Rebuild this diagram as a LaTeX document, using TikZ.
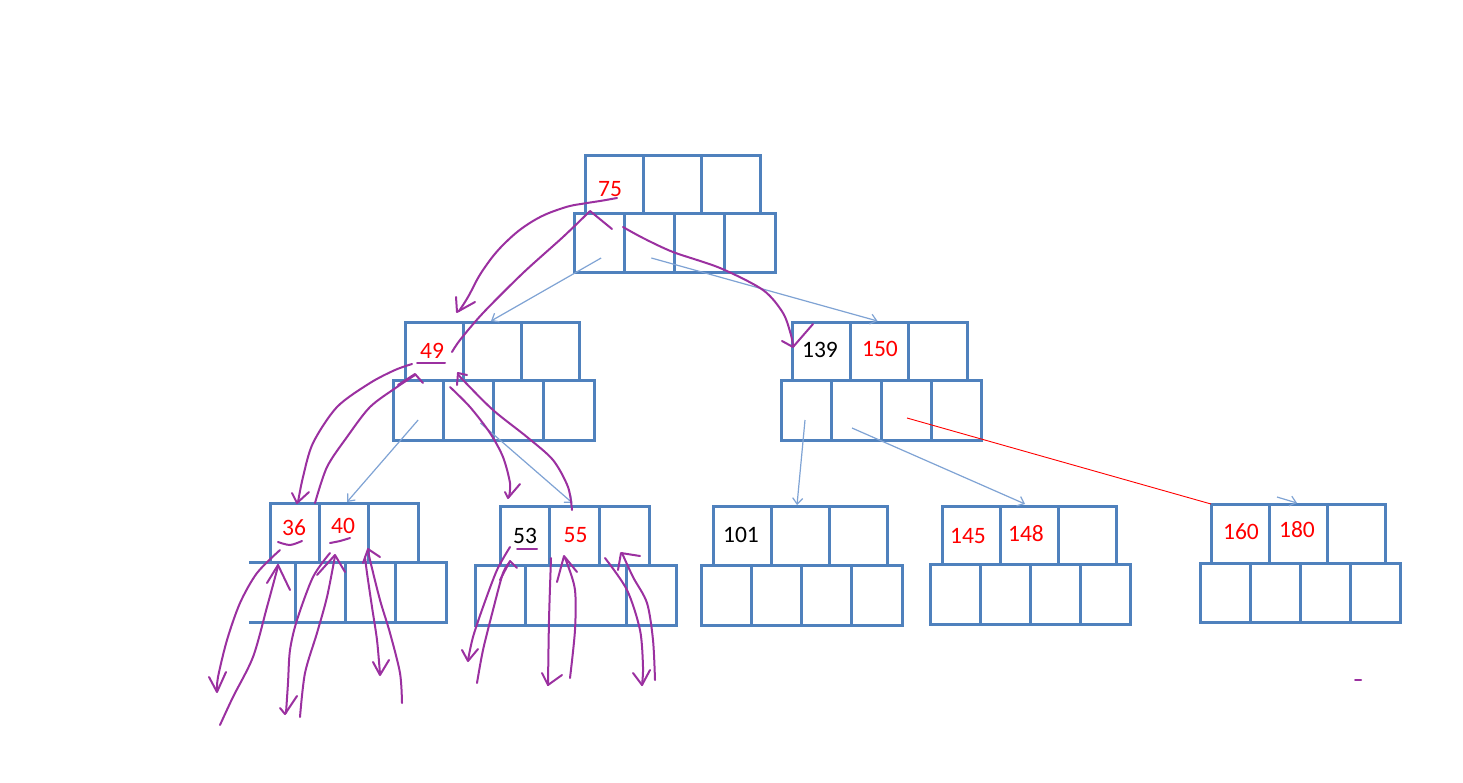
\documentclass[tikz,border=0pt]{standalone}
\usepackage{fontspec}
\setmainfont{Carlito}
\usetikzlibrary{arrows.meta,calc}
\definecolor{boxblue}{RGB}{79,129,189}
\definecolor{lightblue}{RGB}{127,163,212}
\definecolor{ink}{RGB}{155,48,160}
\definecolor{txtred}{RGB}{255,0,0}
\newcommand\cellrow[6]{%
  \pgfmathsetmacro\rowcw{(#3-#2)/#6}%
  \pgfmathsetmacro\rowch{#5-#4}%
  \foreach \i in {1,...,#6}{%
    \node[cell, minimum width=\rowcw pt, minimum height=\rowch pt] (#1-\i) at ({#2+(\i-0.5)*\rowcw},{(#4+#5)/2}) {};
  }}
\begin{document}
\begin{tikzpicture}[x=1pt,y=-1pt,
  cell/.style={draw=boxblue, line width=3pt, inner sep=0pt, outer sep=0pt},
  lbl/.style={font=\fontsize{23.5}{27}\selectfont, inner sep=0pt},
  redlbl/.style={lbl, text=txtred},
  ptr/.style={draw=lightblue, line width=1.2pt, -{Straight Barb[length=6pt,width=10pt]}},
  inkline/.style={draw=ink, line width=2pt, line cap=round, line join=round},
  redline/.style={draw=txtred, line width=0.9pt},
]
\fill[white] (0,0) rectangle (1463,782);
\useasboundingbox (0,0) rectangle (1463,782);

% ---- cells ----
\cellrow{rb}{574}{775}{213}{272}{4}
\cellrow{rt}{585}{760}{155}{213}{3}
\cellrow{lb}{393}{594}{380}{440}{4}
\cellrow{lt}{405}{579}{322}{380}{3}
\cellrow{mb}{781}{981}{380}{440}{4}
\cellrow{mt}{792}{967}{322}{380}{3}
\cellrow{ab}{295}{446}{562}{622}{3}
\draw[boxblue, line width=3pt] (ab-1.north west) -- ++(-46,0);
\draw[boxblue, line width=3pt] (ab-1.south west) -- ++(-46,0);
\cellrow{at}{270}{418}{503}{562}{3}
\node[cell, minimum width=50pt, minimum height=60pt] (bb-1) at (500,595) {};
\node[cell, minimum width=101pt, minimum height=60pt] (bb-2) at (575.5,595) {};
\node[cell, minimum width=50pt, minimum height=60pt] (bb-3) at (651,595) {};
\cellrow{bt}{500}{649}{506}{565}{3}
\cellrow{cb}{701}{902}{565}{625}{4}
\cellrow{ct}{713}{887}{506}{565}{3}
\cellrow{db}{930}{1130}{564}{624}{4}
\cellrow{dt}{942}{1116}{506}{564}{3}
\cellrow{eb}{1200}{1400}{563}{622}{4}
\cellrow{et}{1211}{1385}{504}{563}{3}

% ---- labels ----
\node[redlbl] (l75) at (610,189) {75};
\node[redlbl] (l49) at (432,351) {49};
\node[lbl] (l139) at (820,350) {139};
\node[redlbl] (l150) at (880,348.5) {150};
\node[redlbl] (l36) at (294,528) {36};
\node[redlbl] (l40) at (343,526) {40};
\node[lbl] (l53) at (525,535.5) {53};
\node[redlbl] (l55) at (575.5,535.5) {55};
\node[lbl] (l101) at (741,535) {101};
\node[redlbl] (l145) at (968,536) {145};
\node[redlbl] (l148) at (1026,534) {148};
\node[redlbl] (l160) at (1241,532) {160};
\node[redlbl] (l180) at (1297,530) {180};

% ---- pointer arrows ----
\draw[ptr] ($(rb-1.center)+(2,15.5)$) -- ($(lt-2.north west)+(28,-1)$);
\draw[ptr] ($(rb-2.center)+(2,15.5)$) -- ($(mt-2.north)+(-2,-1)$);
\draw[ptr] ($(lb-1.center)+(0,10)$) -- ($(at-2.north)+(3,-1)$);
\draw[ptr] ($(lb-2.center)+(12,13)$) -- ($(bt-2.north)+(-2,-3)$);
\draw[ptr] ($(mb-1.center)+(-1,10)$) -- ($(ct-2.north west)+(26,-1)$);
\draw[ptr] ($(mb-2.center)+(-4,18)$) -- ($(dt-2.north)+(-4,-2)$);
\draw[ptr] ($(et-2.north)+(-21,-7)$) -- ($(et-2.north)+(-1,-1)$);
\draw[redline] ($(mb-3.center)+(1,8)$) -- (et-1.north west);

% ---- handwritten ink ----
\draw[inkline] plot[smooth, tension=0.7] coordinates {(617,198) (600,201) (587,203) (563,208) (533,221) (505,243) (483,270) (468,297) (459,311)};
\draw[inkline] (456,297) -- (457,312) -- (475,302);
\draw[inkline] plot[smooth] coordinates {(452,352) (460,340) (483,313) (523,273) (563,237) (590,211)} -- (612,229);
\draw[inkline] plot[smooth] coordinates {(623,227) (643,238) (673,252) (720,268) (763,290) (783,313) (791,335) (793,346)};
\draw[inkline] (782,341) -- (793,347) -- (813,324);
\draw[inkline] plot[smooth] coordinates {(412,364) (395,370) (370,383) (337,407) (313,443) (303,477) (298,502)};
\draw[inkline] (292,493) -- (297,503) -- (309,492);
\draw[inkline] plot[smooth] coordinates {(315,503) (327,467) (347,437) (370,407) (397,387) (415,375)};
\draw[inkline] (398,385) -- (415,374) -- (423,383);
\draw[inkline] plot[smooth] coordinates {(450,387) (470,407) (490,433) (503,457) (510,483) (509,497)};
\draw[inkline] (505,492) -- (508,498) -- (520,484);
\draw[inkline] plot[smooth] coordinates {(572,510) (568,487) (553,460) (527,437) (493,410) (463,380) (458,374)};
\draw[inkline] (457,385) -- (458,373) -- (467,375);
\draw[inkline] (417,363) -- (445,363);
% node A
\draw[inkline] plot[smooth] coordinates {(278,542) (290,545) (302,541)};
\draw[inkline] plot[smooth] coordinates {(330,543) (340,541) (350,538)};
\draw[inkline] plot[smooth] coordinates {(280,550) (257,573) (240,603) (227,640) (218,677) (217,691)};
\draw[inkline] (209,677) -- (217,692) -- (226,672);
\draw[inkline] plot[smooth] coordinates {(220,725) (233,697) (253,657) (267,607) (277,570) (278,565)};
\draw[inkline] (267,583) -- (278,565) -- (290,590);
\draw[inkline] plot[smooth] coordinates {(330,553) (313,577) (297,620) (290,650) (288,683) (286,713)};
\draw[inkline] (280,708) -- (285,714) -- (297,696);
\draw[inkline] plot[smooth] coordinates {(300,717) (305,673) (317,633) (327,597) (335,556)};
\draw[inkline] (317,575) -- (335,555) -- (345,572);
\draw[inkline] plot[smooth] coordinates {(365,557) (367,573) (372,607) (377,640) (380,674)};
\draw[inkline] (373,662) -- (380,675) -- (389,660);
\draw[inkline] plot[smooth] coordinates {(402,703) (400,673) (390,633) (380,600) (370,560) (368,550)};
\draw[inkline] (363,563) -- (368,549) -- (380,557);
% node B
\draw[inkline] (517,549) -- (537,549);
\draw[inkline] plot[smooth] coordinates {(510,547) (497,570) (483,607) (473,637) (468,660)};
\draw[inkline] (462,650) -- (468,661) -- (478,649);
\draw[inkline] plot[smooth] coordinates {(477,683) (483,650) (493,610) (503,573) (510,562)};
\draw[inkline] (500,580) -- (510,561) -- (517,568);
\draw[inkline] plot[smooth] coordinates {(551,558) (549,620) (548,685)};
\draw[inkline] (542,673) -- (548,685) -- (562,675);
\draw[inkline] plot[smooth] coordinates {(570,678) (575,630) (575,590) (567,563) (564,557)};
\draw[inkline] (557,582) -- (564,556) -- (577,572);
\draw[inkline] plot[smooth] coordinates {(605,558) (627,590) (640,630) (643,667) (642,685)};
\draw[inkline] (633,673) -- (642,685) -- (650,670);
\draw[inkline] plot[smooth] coordinates {(655,680) (653,640) (647,603) (633,577) (622,553)};
\draw[inkline] (618,570) -- (621,553) -- (640,556);
\draw[inkline] (1355,680) -- (1361,680);
\end{tikzpicture}
\end{document}
